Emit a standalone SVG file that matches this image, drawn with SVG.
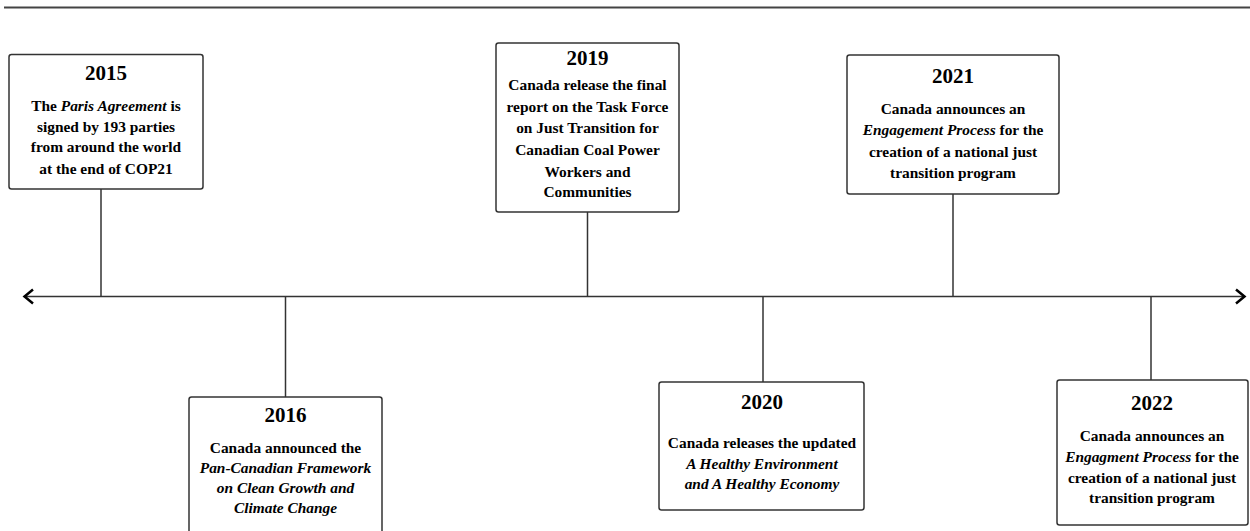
<svg xmlns="http://www.w3.org/2000/svg" width="1250" height="531" viewBox="0 0 1250 531">
<style>
.box{fill:#fff;stroke:#333;stroke-width:1.5}
.ln{stroke:#333;stroke-width:1.5;fill:none}
.yr{font-family:"Liberation Serif","Times New Roman",serif;font-weight:bold;font-size:21px;fill:#000;text-anchor:middle}
.tx{font-family:"Liberation Serif","Times New Roman",serif;font-weight:bold;font-size:15.4px;fill:#000;text-anchor:middle}
.it{font-style:italic}
</style>
<rect width="1250" height="531" fill="#fff"/>
<line x1="4" y1="7.5" x2="1250" y2="7.5" stroke="#444" stroke-width="2"/>
<g id="connectors">
<line class="ln" x1="24" y1="296.5" x2="1244" y2="296.5"/>
<polyline points="33,289.5 24.5,296.5 33,303.5" fill="none" stroke="#000" stroke-width="2.5"/>
<polyline points="1236,289.5 1244.5,296.5 1236,303.5" fill="none" stroke="#000" stroke-width="2.5"/>
<line class="ln" x1="101" y1="189" x2="101" y2="296"/>
<line class="ln" x1="285.5" y1="296" x2="285.5" y2="397"/>
<line class="ln" x1="587.5" y1="212" x2="587.5" y2="296"/>
<line class="ln" x1="763" y1="296" x2="763" y2="382"/>
<line class="ln" x1="953" y1="194" x2="953" y2="296"/>
<line class="ln" x1="1151" y1="296" x2="1151" y2="380"/>
</g>
<g id="n2015">
<rect class="box" x="9" y="54.5" width="194" height="134.5" rx="2.5"/>
<text class="yr" x="106" y="80">2015</text>
<text class="tx" x="106" y="111">The <tspan class="it">Paris Agreement</tspan> is</text>
<text class="tx" x="106" y="131.5">signed by 193 parties</text>
<text class="tx" x="106" y="152">from around the world</text>
<text class="tx" x="106" y="174">at the end of COP21</text>
</g>
<g id="n2016">
<rect class="box" x="189" y="397" width="193" height="140" rx="2.5"/>
<text class="yr" x="285.5" y="422">2016</text>
<text class="tx" x="285.5" y="453">Canada announced the</text>
<text class="tx it" x="285.5" y="473">Pan-Canadian Framework</text>
<text class="tx it" x="285.5" y="493">on Clean Growth and</text>
<text class="tx it" x="285.5" y="513">Climate Change</text>
</g>
<g id="n2019">
<rect class="box" x="496" y="43" width="183" height="169" rx="2.5"/>
<text class="yr" x="587.5" y="65">2019</text>
<text class="tx" x="587.5" y="90">Canada release the final</text>
<text class="tx" x="587.5" y="112">report on the Task Force</text>
<text class="tx" x="587.5" y="133">on Just Transition for</text>
<text class="tx" x="587.5" y="155">Canadian Coal Power</text>
<text class="tx" x="587.5" y="177">Workers and</text>
<text class="tx" x="587.5" y="197">Communities</text>
</g>
<g id="n2020">
<rect class="box" x="659" y="382" width="205" height="128" rx="2.5"/>
<text class="yr" x="762" y="409">2020</text>
<text class="tx" x="762" y="448">Canada releases the updated</text>
<text class="tx it" x="762" y="469">A Healthy Environment</text>
<text class="tx it" x="762" y="489">and A Healthy Economy</text>
</g>
<g id="n2021">
<rect class="box" x="847" y="55" width="212" height="139" rx="2.5"/>
<text class="yr" x="953" y="83">2021</text>
<text class="tx" x="953" y="114">Canada announces an</text>
<text class="tx" x="953" y="135"><tspan class="it">Engagement Process</tspan> for the</text>
<text class="tx" x="953" y="157">creation of a national just</text>
<text class="tx" x="953" y="178">transition program</text>
</g>
<g id="n2022">
<rect class="box" x="1057" y="380" width="191" height="145" rx="2.5"/>
<text class="yr" x="1152" y="410">2022</text>
<text class="tx" x="1152" y="441">Canada announces an</text>
<text class="tx" x="1152" y="462"><tspan class="it">Engagment Process</tspan> for the</text>
<text class="tx" x="1152" y="483">creation of a national just</text>
<text class="tx" x="1152" y="503">transition program</text>
</g>
</svg>
